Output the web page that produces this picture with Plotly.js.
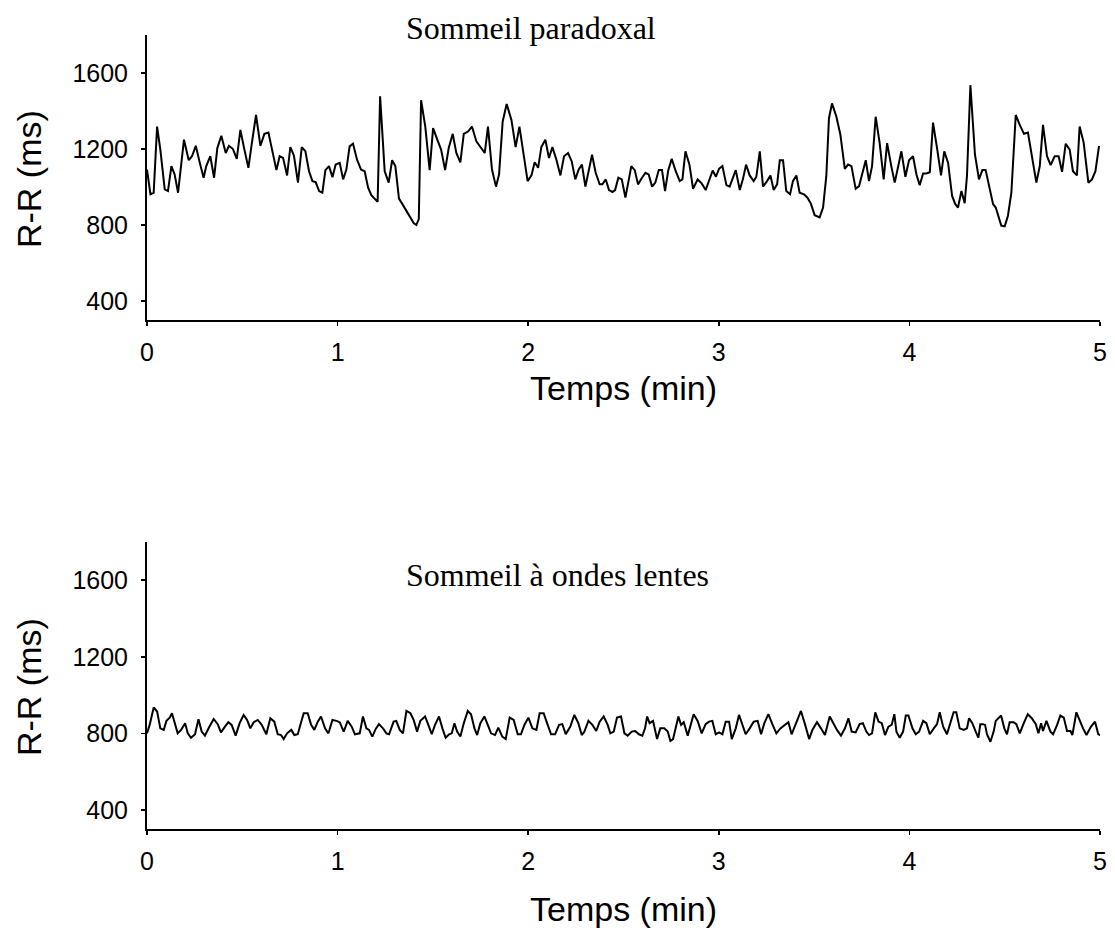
<!DOCTYPE html>
<html>
<head>
<meta charset="utf-8">
<script src="https://cdn.plot.ly/plotly-3.0.1.min.js"></script>
<style>html,body{margin:0;padding:0;background:#fff;}#chart{width:1115px;height:934px;}</style>
</head>
<body>
<div id="chart"></div>
<script>
// ---- Data (time in minutes, R-R interval in ms) ----
const titleTop = "Sommeil paradoxal";
const titleBottom = "Sommeil à ondes lentes";
const xTitle = "Temps (min)";
const yTitle = "R-R (ms)";
const xTickVals = [0, 1, 2, 3, 4, 5];
const yTickVals = [400, 800, 1200, 1600];

const remT = [0.000,0.018,0.035,0.053,0.070,0.093,0.110,0.128,0.145,0.163,
0.194,0.219,0.236,0.256,0.277,0.297,0.311,0.332,0.352,0.369,
0.390,0.413,0.430,0.451,0.471,0.490,0.511,0.532,0.549,0.572,
0.595,0.616,0.637,0.658,0.679,0.696,0.714,0.735,0.752,0.771,
0.792,0.812,0.831,0.850,0.868,0.885,0.903,0.920,0.936,0.955,
0.973,0.990,1.011,1.029,1.046,1.063,1.081,1.102,1.123,1.142,
1.160,1.177,1.195,1.210,1.223,1.247,1.268,
1.286,1.303,1.322,1.340,1.361,1.382,1.399,1.413,1.426,1.438,
1.460,1.483,1.501,1.522,1.543,1.564,1.583,1.604,1.623,1.644,
1.662,1.684,1.705,1.728,1.749,1.772,1.789,1.810,1.831,1.847,
1.866,1.887,1.912,1.934,1.954,1.976,1.997,2.017,2.034,2.052,
2.069,2.090,2.109,2.127,2.148,2.169,2.188,2.209,2.228,2.247,
2.265,2.282,2.300,2.335,2.354,2.375,2.389,2.407,2.424,2.442,
2.456,2.473,2.491,2.510,
2.524,2.541,2.559,2.576,2.597,2.615,2.632,2.650,2.667,2.685,
2.702,2.718,2.735,2.753,2.774,2.795,2.809,2.825,2.846,2.865,
2.889,2.910,2.931,2.949,2.968,2.985,3.001,3.019,3.040,3.057,
3.089,3.110,3.127,3.143,3.162,3.183,3.197,3.215,3.232,3.253,
3.271,3.288,3.306,3.320,3.337,3.354,3.374,3.389,3.407,3.424,
3.447,3.465,3.482,3.503,3.529,3.547,3.564,3.578,3.594,3.617,
3.638,3.661,3.678,3.696,3.718,3.736,3.753,3.771,3.788,
3.804,3.823,3.844,3.865,3.883,3.905,3.923,3.958,3.979,3.998,
4.019,4.037,4.054,4.072,4.089,4.107,4.124,4.145,4.166,4.183,
4.203,4.224,4.241,4.255,4.273,4.290,4.302,4.320,4.344,4.365,
4.383,4.400,4.421,4.439,4.453,4.470,4.482,4.500,4.517,4.535,
4.558,4.579,4.601,4.622,4.643,4.666,4.684,4.701,4.722,4.741,
4.762,4.783,4.801,4.820,4.841,4.858,4.879,4.893,4.914,4.939,
4.958,4.976,4.995];

const remRR = [1092,962,970,1318,1197,988,979,1110,1066,970,
1249,1141,1162,1217,1127,1049,1110,1162,1049,1205,
1270,1179,1217,1200,1148,1301,1197,1101,1223,1379,
1217,1280,1287,1179,1089,1162,1153,1061,1210,1165,
1023,1210,1188,1083,1031,1026,979,970,1089,1110,
1052,1118,1127,1040,1092,1214,1228,1144,1092,1083,
997,957,936,922,1478,1083,1023,
1141,1110,939,910,875,840,810,800,831,1457,
1318,1089,1310,1252,1197,1089,1205,1280,1179,1130,
1280,1292,1318,1240,1209,1179,1318,1092,1002,1066,
1344,1437,1353,1210,1318,1179,1031,1061,1130,1101,
1210,1249,1153,1210,1144,1061,1162,1179,1136,1040,
1092,1118,1002,1170,1075,1014,1014,1040,984,974,
984,1049,1040,944,
1023,1110,1089,1014,1049,1075,1066,1002,1023,1089,
1089,979,1089,1148,1083,1031,1040,1188,1118,991,
1040,1019,984,1031,1087,1054,1096,1110,1010,1002,
1089,984,1043,1118,1061,1031,1054,1188,1002,1031,
1061,984,1014,1141,1141,979,962,1031,1061,970,
962,944,915,852,840,892,1057,1362,1440,1370,
1275,1096,1118,1110,991,1005,1071,1141,1031,
1110,1370,1231,1040,1231,1110,1023,1188,1054,1141,
1162,1066,1010,1071,1071,1078,1339,1205,1061,1188,
1127,953,910,892,979,915,1057,1536,1170,1040,
1089,1089,988,910,892,831,797,793,849,970,
1379,1327,1280,1287,1158,1023,1110,1327,1162,1115,
1162,1162,1080,1228,1197,1083,1061,1318,1235,1023,
1040,1083,1217];

const swsT = [0.000,0.014,0.035,0.053,0.070,0.088,0.102,0.119,0.131,0.144,
0.161,0.179,0.200,0.214,0.231,0.252,0.270,0.287,0.304,0.325,
0.350,0.371,0.388,0.409,0.427,0.444,0.465,0.486,0.507,0.525,
0.542,0.560,0.581,0.602,0.626,0.647,0.668,0.686,0.703,0.717,
0.735,0.757,0.773,0.791,0.808,0.822,0.843,0.861,0.878,0.896,
0.913,0.934,0.952,0.973,0.994,1.011,1.032,1.053,1.074,1.091,
1.116,1.133,1.151,1.165,1.182,1.200,1.217,1.238,1.256,1.270,
1.294,1.308,1.326,1.343,1.361,1.382,1.399,1.417,1.434,1.459,
1.476,1.494,1.511,1.532,1.550,1.567,1.585,1.599,1.613,1.627,
1.644,1.662,1.683,1.700,1.718,1.732,1.749,1.770,1.788,1.805,
1.826,1.843,1.864,1.882,1.903,1.924,1.945,1.962,1.980,2.001,
2.022,2.043,2.060,2.081,2.099,2.120,2.141,2.162,2.179,2.197,
2.221,2.242,2.263,2.281,2.295,2.316,2.337,2.357,2.375,2.396,
2.417,2.431,2.449,2.466,2.487,2.505,2.522,
2.543,2.561,2.581,2.599,2.613,2.624,2.637,2.655,2.676,2.693,
2.714,2.732,2.746,2.760,2.774,2.788,2.802,2.816,2.837,2.868,
2.889,2.910,2.931,2.949,2.966,2.984,3.001,3.019,3.036,3.054,
3.068,3.089,3.106,3.124,3.141,3.162,3.183,3.204,3.222,3.239,
3.260,3.281,3.302,3.323,3.344,3.365,3.382,3.407,3.431,3.452,
3.474,3.491,3.515,3.536,3.557,3.582,3.603,3.620,3.641,3.662,
3.680,3.697,3.718,3.739,3.756,3.774,3.788,
3.804,3.821,3.838,3.855,3.872,3.890,3.907,3.921,3.932,3.949,
3.967,3.981,3.995,4.016,4.033,4.051,4.072,4.089,4.107,4.128,
4.145,4.159,4.177,4.197,4.215,4.232,4.246,4.264,4.285,4.302,
4.313,4.330,4.348,4.362,4.372,4.386,4.397,4.407,4.425,4.442,
4.453,4.470,4.481,4.498,4.512,4.526,4.547,4.561,4.579,4.600,
4.621,4.642,4.663,4.677,4.691,4.701,4.719,4.740,4.754,4.775,
4.792,4.810,4.827,4.845,4.855,4.876,4.894,4.911,4.929,4.953,
4.974,4.991,5.008,5.022];

const swsRR = [800,844,935,914,826,818,865,882,905,853,
800,818,853,800,777,795,874,809,788,830,
875,848,805,835,858,844,788,853,896,870,
826,858,870,844,795,879,861,795,791,770,
800,818,791,795,861,905,905,844,818,861,
888,826,800,870,865,858,809,865,835,795,
800,888,826,818,783,823,848,826,800,795,
861,865,818,800,917,905,870,809,865,888,
844,795,844,888,826,777,795,800,853,809,
783,853,917,900,826,791,853,888,844,800,
791,830,783,770,882,870,795,795,844,882,
826,818,905,905,853,795,795,844,848,795,
835,896,853,791,809,865,844,812,861,888,
844,800,809,882,888,800,788,
809,812,795,788,826,888,853,865,770,826,
826,809,760,770,835,888,844,858,788,900,
865,800,848,861,865,795,805,795,861,861,
770,826,896,848,795,826,861,865,795,853,
900,848,800,826,844,858,795,861,917,848,
770,818,858,826,791,888,848,818,788,826,
879,809,805,848,853,809,791,
800,910,861,853,791,835,844,900,809,777,
809,893,893,826,795,809,865,853,795,826,
848,910,835,795,853,910,910,826,818,826,
879,853,809,777,848,848,844,795,756,809,
865,882,893,826,795,858,858,848,800,853,
900,879,848,800,853,812,865,809,795,844,
893,882,812,812,791,910,861,826,791,835,
861,795,788,812];

// ---- Chart ----
const sans = 'Liberation Sans, Arial, sans-serif';
const serif = 'Liberation Serif, Times New Roman, serif';
const lineStyle = {color: 'black', width: 2};
const traces = [
  {x: remT, y: remRR, type: 'scatter', mode: 'lines', line: lineStyle, xaxis: 'x', yaxis: 'y', hoverinfo: 'skip'},
  {x: swsT, y: swsRR, type: 'scatter', mode: 'lines', line: lineStyle, xaxis: 'x2', yaxis: 'y2', hoverinfo: 'skip'}
];

function xAxis(anchor, standoff) {
  return {
    anchor: anchor, domain: [0, 1], range: [0, 5], tickvals: xTickVals,
    ticks: 'outside', ticklen: 4, tickwidth: 1.5, tickcolor: 'black',
    ticklabelstandoff: standoff,
    showline: true, linewidth: 2, linecolor: 'black',
    showgrid: false, zeroline: false,
    tickfont: {family: sans, size: 25, color: 'black'}
  };
}
function yAxis(anchor, domain) {
  return {
    anchor: anchor, domain: domain, range: [300, 1800], tickvals: yTickVals,
    ticks: 'outside', ticklen: 4, tickwidth: 1.5, tickcolor: 'black',
    ticklabelstandoff: 8,
    showline: true, linewidth: 2, linecolor: 'black',
    showgrid: false, zeroline: false,
    tickfont: {family: sans, size: 25, color: 'black'}
  };
}

function label(text, x, y, size, family, angle) {
  return {text: text, xref: 'paper', yref: 'paper', x: x, y: y, xanchor: 'center', yanchor: 'middle',
          showarrow: false, textangle: angle || 0, font: {family: family, size: size, color: 'black'}};
}

const layout = {
  width: 1115, height: 934,
  margin: {l: 147, r: 15, t: 35, b: 105},
  paper_bgcolor: 'white', plot_bgcolor: 'white',
  showlegend: false,
  xaxis: xAxis('y', 5),
  yaxis: yAxis('x', [0.641, 1]),
  xaxis2: xAxis('y2', 5),
  yaxis2: yAxis('x2', [0, 0.3615]),
  annotations: [
    label(titleTop, 0.403, 1.009, 32, serif),
    label(titleBottom, 0.431, 0.32, 32, serif),
    label(xTitle, 0.5, 0.5554, 34, sans),
    label(xTitle, 0.5, -0.1008, 34, sans),
    label(yTitle, -0.1238, 0.8186, 34, sans, -90),
    label(yTitle, -0.1238, 0.1788, 34, sans, -90)
  ]
};

Plotly.newPlot('chart', traces, layout, {staticPlot: true, displayModeBar: false});
</script>
</body>
</html>
